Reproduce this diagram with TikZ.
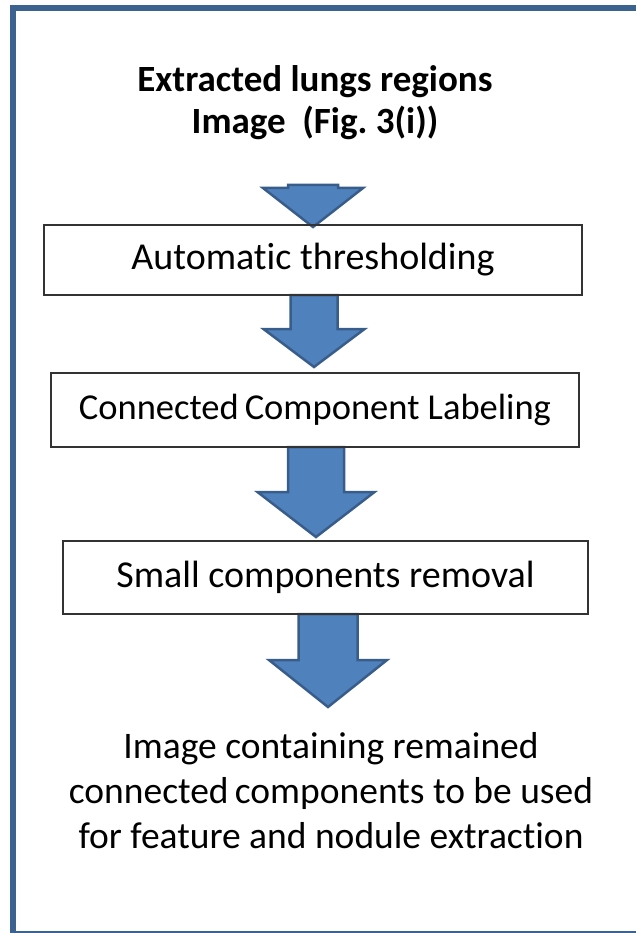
\documentclass[tikz,border=0pt]{standalone}
\usepackage{fontspec}
\setmainfont[Ligatures=NoCommon]{Carlito}
\usetikzlibrary{calc,backgrounds}

\definecolor{arrowblue}{HTML}{4F81BD}
\definecolor{arrowedge}{HTML}{385D8A}
\definecolor{framecol}{HTML}{3C6290}

\tikzset{
	stepbox/.style={draw=black!80,line width=2pt,inner sep=0,outer sep=0,font=\fontsize{38}{44}\selectfont},
	plaintext/.style={align=center,inner sep=0,font=\fontsize{37.5}{45}\selectfont},
	bigarrow/.style={fill=arrowblue,draw=arrowedge,line width=2.5pt,line join=miter},
}

% block arrow: tail, tip, half shaft, half head, head length
\newcommand{\blockarrow}[5]{%
	\draw[bigarrow] let \p1=(#1), \p2=(#2) in
		(\x2-#3pt,\y1) -- (\x2-#3pt,\y2+#5pt) -- (\x2-#4pt,\y2+#5pt) -- (\x2,\y2)
		-- (\x2+#4pt,\y2+#5pt) -- (\x2+#3pt,\y2+#5pt) -- (\x2+#3pt,\y1) -- cycle;}

\frenchspacing
\begin{document}
\begin{tikzpicture}[x=1pt,y=-1pt]
	\useasboundingbox (0,0) rectangle (636,933);
	\draw[framecol,line width=6pt] (12.5,8.5) rectangle (660,934);

	\node[plaintext,font=\fontsize{37}{42}\selectfont\bfseries] (title) at (315,103) {Extracted lungs regions\\Image~~(Fig. 3(i))};

	\node[stepbox,minimum width=538,minimum height=70] (thresh) at (313,260) {Automatic thresholding};
	\node[stepbox,minimum width=528,minimum height=74,font=\fontsize{36.5}{44}\selectfont] (ccl) at (315,410) {Connected\,Component Labeling};
	\node[stepbox,minimum width=525,minimum height=73] (small) at (325.5,577.5) {Small components removal};

	\node[plaintext] (result) at (331,791) {Image containing remained\\connected\,components to be used\\for feature and nodule extraction};

	\coordinate (a1tail) at (313,185);
	\coordinate (a1tip) at (313,227);
	\coordinate (a2tip) at (314,367);
	\coordinate (a3tip) at (316,537);
	\coordinate (a4tip) at (328,707);

	\begin{pgfonlayer}{background}
		\blockarrow{a1tail}{a1tip}{25}{50}{39}
		\blockarrow{thresh.south}{a2tip}{23.5}{50.5}{38}
		\blockarrow{ccl.south}{a3tip}{28}{58.5}{45}
		\blockarrow{small.south}{a4tip}{29.5}{59}{47}
	\end{pgfonlayer}
\end{tikzpicture}
\end{document}
